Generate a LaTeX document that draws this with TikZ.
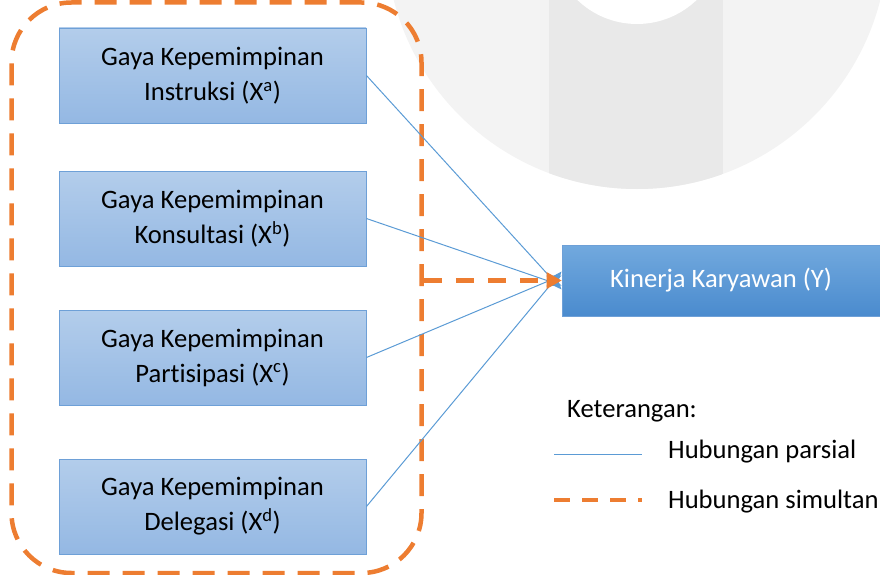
\documentclass[tikz,border=0pt]{standalone}
\usepackage{fontspec}
\setmainfont{Carlito}[Ligatures=NoCommon]
\usetikzlibrary{arrows.meta}
\definecolor{wmring}{HTML}{F3F3F3}
\definecolor{wmband}{HTML}{E9E9E9}
\definecolor{boxtop}{HTML}{B3CDEB}
\definecolor{boxbot}{HTML}{94B8E3}
\definecolor{boxline}{HTML}{6EA0D7}
\definecolor{ytop}{HTML}{72A9DE}
\definecolor{ybot}{HTML}{4A8BCE}
\definecolor{orng}{HTML}{ED7D31}
\definecolor{blu}{HTML}{5B9BD5}
\tikzset{
  xbox/.style={draw=boxline, line width=0.9pt, top color=boxtop, bottom color=boxbot,
    minimum width=307pt, minimum height=95pt, align=center, inner sep=0pt,
    font=\fontsize{26.6}{35}\selectfont},
  ybox/.style={draw=boxline, line width=0.9pt, top color=ytop, bottom color=ybot,
    minimum width=318pt, minimum height=71pt, align=center, inner sep=0pt,
    text=white, font=\fontsize{26.6}{35}\selectfont},
  partial/.style={draw=blu, line width=1pt, -{Triangle[length=14pt,width=11pt]}},
  simul/.style={draw=orng, line width=4.5pt, dash pattern=on 18pt off 14pt},
  grpbox/.style={draw=orng, line width=4.5pt, dash pattern=on 22pt off 13pt,
    rounded corners=60pt, minimum width=410pt, minimum height=570.5pt, inner sep=0pt},
  legtext/.style={anchor=base west, inner sep=0pt, font=\fontsize{26.6}{35}\selectfont}
}
\begin{document}
\begin{tikzpicture}[x=1pt,y=-1pt]
\useasboundingbox (0,0) rectangle (880,575);
% faint watermark
\begin{scope}
  \clip (0,0) rectangle (880,575);
  \fill[wmring] (637,-62) circle[radius=251];
  \begin{scope}
    \clip (637,-62) circle[radius=251];
    \fill[wmband] (549,-320) rectangle (723,200);
  \end{scope}
  \fill[white] (637,-62) circle[radius=86];
\end{scope}
% group border
\node[grpbox] (grp) at (216.5,287.75) {};
% boxes
\node[xbox] (xa) at (212.5,75.5) {Gaya Kepemimpinan\\Instruksi (X\textsuperscript{a})};
\node[xbox] (xb) at (212.5,218.5) {Gaya Kepemimpinan\\Konsultasi (X\textsuperscript{b})};
\node[xbox] (xc) at (212.5,357.5) {Gaya Kepemimpinan\\Partisipasi (X\textsuperscript{c})};
\node[xbox] (xd) at (212.5,506.5) {Gaya Kepemimpinan\\Delegasi (X\textsuperscript{d})};
\node[ybox] (y) at (721,280.5) {Kinerja Karyawan (Y)};
% arrow end points
\coordinate (ya) at ([yshift=-9pt]y.west);
\coordinate (yb) at ([yshift=-5pt]y.west);
\coordinate (yc) at ([yshift=5pt]y.west);
\coordinate (yd) at ([yshift=9pt]y.west);
\draw[partial] (xa.east) -- (ya);
\draw[partial] (xb.east) -- (yb);
\draw[partial] (xc.east) -- (yc);
\draw[partial] (xd.east) -- (yd);
% simultaneous
\coordinate (gs) at (grp.east |- y.west);
\draw[simul] (gs) -- ([xshift=-14pt]y.west);
\fill[orng] (y.west) -- ++(-15,-8.5) -- ++(0,17) -- cycle;
% legend
\node[legtext] (ket) at (567,417) {Keterangan:};
\node[legtext] (lp) at (668,458) {Hubungan parsial};
\node[legtext] (ls) at (668,508) {Hubungan simultan};
\coordinate (lpa) at (554,454);
\coordinate (lpb) at (642,454);
\coordinate (lsa) at (554,500);
\coordinate (lsb) at (642,500);
\draw[draw=blu, line width=1pt] (lpa) -- (lpb);
\draw[draw=orng, line width=4.5pt, dash pattern=on 16pt off 12pt] (lsa) -- (lsb);
\end{tikzpicture}
\end{document}
